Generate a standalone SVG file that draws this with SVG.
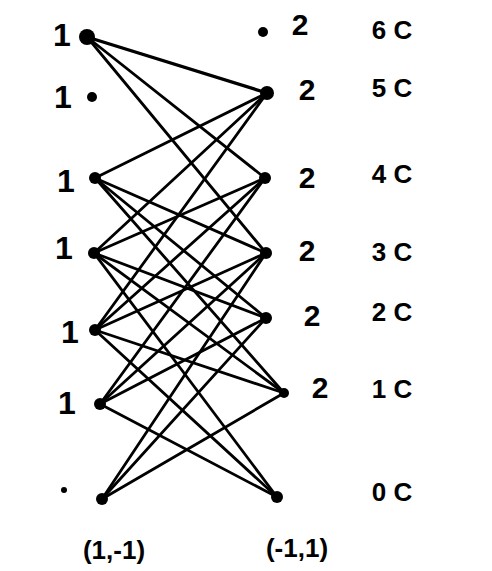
<svg xmlns="http://www.w3.org/2000/svg" width="492" height="571" viewBox="0 0 492 571">
<style>
.e{stroke:#000;stroke-width:2.8;stroke-linecap:round;fill:none}
.n{fill:#000}
.t{font-family:"Liberation Sans",Arial,sans-serif;font-weight:bold;fill:#000;text-anchor:middle;dominant-baseline:central}
.l{font-size:32px}
.r{font-size:30px}
.c{font-size:26px}
.b{font-size:26px}
</style>
<rect width="492" height="571" fill="#fff"/>
<g id="edges">
<line class="e" x1="87" y1="37" x2="267" y2="93" style="stroke-width:3.4"/>
<line class="e" x1="87" y1="37" x2="265" y2="178"/>
<line class="e" x1="87" y1="37" x2="266" y2="253"/>
<line class="e" x1="95" y1="178" x2="267" y2="93"/>
<line class="e" x1="95" y1="178" x2="266" y2="253"/>
<line class="e" x1="95" y1="178" x2="266" y2="318"/>
<line class="e" x1="95" y1="178" x2="284" y2="393"/>
<line class="e" x1="94" y1="253" x2="267" y2="93"/>
<line class="e" x1="94" y1="253" x2="265" y2="178"/>
<line class="e" x1="94" y1="253" x2="266" y2="318"/>
<line class="e" x1="94" y1="253" x2="284" y2="393"/>
<line class="e" x1="94" y1="253" x2="277" y2="497"/>
<line class="e" x1="95" y1="330" x2="267" y2="93"/>
<line class="e" x1="95" y1="330" x2="265" y2="178"/>
<line class="e" x1="95" y1="330" x2="266" y2="253"/>
<line class="e" x1="95" y1="330" x2="284" y2="393"/>
<line class="e" x1="95" y1="330" x2="277" y2="497"/>
<line class="e" x1="100" y1="404" x2="265" y2="178"/>
<line class="e" x1="100" y1="404" x2="266" y2="253"/>
<line class="e" x1="100" y1="404" x2="266" y2="318"/>
<line class="e" x1="100" y1="404" x2="277" y2="497"/>
<line class="e" x1="102" y1="499" x2="266" y2="253"/>
<line class="e" x1="102" y1="499" x2="266" y2="318"/>
<line class="e" x1="102" y1="499" x2="284" y2="393"/>
</g>
<g id="L0"><circle class="n" cx="87" cy="37" r="8"/><text class="t l" x="62" y="35">1</text></g>
<g id="L1"><circle class="n" cx="92" cy="97" r="5"/><text class="t l" x="63" y="97">1</text></g>
<g id="L2"><circle class="n" cx="95" cy="178" r="6"/><text class="t l" x="66" y="181">1</text></g>
<g id="L3"><circle class="n" cx="94" cy="253" r="6"/><text class="t l" x="64" y="248">1</text></g>
<g id="L4"><circle class="n" cx="95" cy="330" r="6"/><text class="t l" x="70" y="332">1</text></g>
<g id="L5"><circle class="n" cx="100" cy="404" r="6"/><text class="t l" x="67" y="403">1</text></g>
<g id="L6"><circle class="n" cx="102" cy="499" r="6"/><circle class="n" cx="64" cy="490" r="3"/></g>
<g id="R0"><circle class="n" cx="263" cy="32" r="5"/><text class="t r" x="300" y="24">2</text></g>
<g id="R1"><circle class="n" cx="267" cy="93" r="7"/><text class="t r" x="307" y="89">2</text></g>
<g id="R2"><circle class="n" cx="265" cy="178" r="6"/><text class="t r" x="307" y="177">2</text></g>
<g id="R3"><circle class="n" cx="266" cy="253" r="6"/><text class="t r" x="307" y="250">2</text></g>
<g id="R4"><circle class="n" cx="266" cy="318" r="6"/><text class="t r" x="312" y="315">2</text></g>
<g id="R5"><circle class="n" cx="284" cy="393" r="5"/><text class="t r" x="320" y="387">2</text></g>
<g id="R6"><circle class="n" cx="277" cy="497" r="6"/></g>
<g id="levels">
<text class="t c" x="392" y="30">6 C</text>
<text class="t c" x="392" y="88">5 C</text>
<text class="t c" x="392" y="174">4 C</text>
<text class="t c" x="392" y="252">3 C</text>
<text class="t c" x="392" y="312">2 C</text>
<text class="t c" x="392" y="389">1 C</text>
<text class="t c" x="392" y="492">0 C</text>
</g>
<g id="axes">
<text class="t b" x="114" y="550">(1,-1)</text>
<text class="t b" x="297" y="548">(-1,1)</text>
</g>
</svg>
